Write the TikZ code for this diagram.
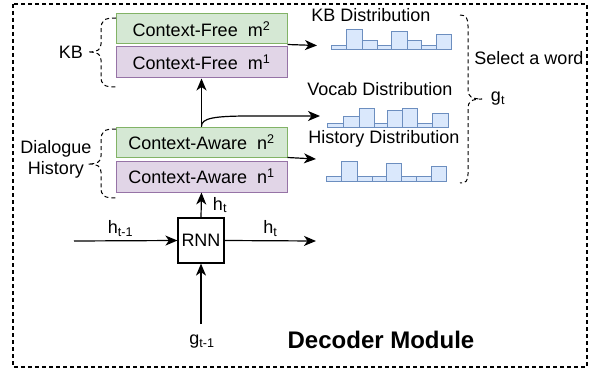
\documentclass[tikz,border=0pt]{standalone}
\usepackage{fontspec}
\setmainfont{Liberation Sans}
\usetikzlibrary{arrows.meta}

\definecolor{greenfill}{HTML}{D5E8D4}
\definecolor{greenline}{HTML}{82B366}
\definecolor{purplefill}{HTML}{E1D5E7}
\definecolor{purpleline}{HTML}{9673A6}
\definecolor{barfill}{HTML}{DAE8FC}
\definecolor{barline}{HTML}{6C8EBF}

\tikzset{
  txt/.style={inner sep=0pt, font=\fontsize{18}{21}\selectfont},
  greenbox/.style={txt, draw=greenline, fill=greenfill, line width=1pt, minimum width=171pt, minimum height=30pt},
  purplebox/.style={txt, draw=purpleline, fill=purplefill, line width=1pt, minimum width=171pt, minimum height=31pt},
  rnnbox/.style={txt, draw, line width=1.2pt, minimum width=46pt, minimum height=45pt},
  bar/.style={draw=barline, fill=barfill, line width=1pt},
  conn/.style={line width=1.2pt, -{Stealth[length=12pt,width=10pt,inset=3.5pt]}},
  brace/.style={line width=1pt, dash pattern=on 4pt off 3pt},
}

\begin{document}
\begin{tikzpicture}[x=1pt, y=-1pt]
\useasboundingbox (0,0) rectangle (592,369);
\draw[line width=1.2pt, dash pattern=on 4pt off 3pt] (13,4) rectangle (587,367);

\node[greenbox]  (mTwo) at (201.5,29)   {Context-Free\ \ m\textsuperscript{2}};
\node[purplebox] (mOne) at (201.5,62.5) {Context-Free\ \ m\textsuperscript{1}};
\node[greenbox]  (nTwo) at (201.5,142)  {Context-Aware\ \ n\textsuperscript{2}};
\node[purplebox] (nOne) at (201.5,176.5) {Context-Aware\ \ n\textsuperscript{1}};
\node[rnnbox]    (rnn)  at (201,240.5)  {RNN};

\coordinate (kbEnd) at (317,45.5);
\coordinate (vocabEnd) at (320,116);
\coordinate (histEnd) at (316,159);
\coordinate (hIn) at (74,241);
\coordinate (hOut) at (316,241);
\coordinate (gIn) at (201,324);

\draw[conn] (nTwo.north) -- (mOne.south);
\draw[conn] (nTwo.north) .. controls (201,118) and (215,116) .. (250,116) -- (vocabEnd);
\draw[conn] (mTwo.south east) -- (kbEnd);
\draw[conn] (nTwo.south east) -- (histEnd);
\draw[conn] (rnn.north) -- (nOne.south);
\node[txt] (hUp) at (220,205) {h\textsubscript{t}};
\draw[conn] (hIn) -- (rnn.west) node[pos=.45, above, txt, yshift=4pt] {h\textsubscript{t-1}};
\draw[conn] (rnn.east) -- (hOut) node[pos=.5, above, txt, yshift=4pt] {h\textsubscript{t}};
\draw[conn] (gIn) -- (rnn.south);
\node[txt] (gPrev) at (202,342) {g\textsubscript{t-1}};

\foreach \xa/\xb/\yt in {331/346/45.7, 346/362/30, 362/377/40.7, 377/391/45.7, 391/407/31.7, 407/421/40.7, 421/436/45.7, 436/451/34.3}
  \draw[bar] (\xa,50) rectangle (\xb,\yt);
\foreach \xa/\xb/\yt in {327.7/343.3/123.7, 343.3/359/116.7, 359/374.3/108.3, 374.3/387.7/123.7, 387.7/402.3/110, 402.3/417.7/108.3, 417.7/432.3/123.7, 432.3/448.3/113.3}
  \draw[bar] (\xa,127.7) rectangle (\xb,\yt);
\foreach \xa/\xb/\yt in {326/341.7/176.7, 341.7/357.3/161.7, 357.3/372.3/176.7, 372.3/386.7/176.7, 386.7/401.7/163.3, 401.7/416.7/176.7, 416.7/431.7/176.7, 431.7/446.7/166}
  \draw[bar] (\xa,181.7) rectangle (\xb,\yt);

\node[txt] (kbDist)    at (371,15)  {KB Distribution};
\node[txt] (vocabDist) at (380,89)  {Vocab Distribution};
\node[txt] (histDist)  at (384,139) {History Distribution};
\node[txt] (select)    at (529,58)  {Select a word};
\node[txt] (gNow)      at (498,99)  {g\textsubscript{t}};

\draw[brace] (116,18) .. controls (104,18) and (101,20) .. (101,30) -- (101,44)
  .. controls (101,50) and (97,52) .. (88,52)
  .. controls (97,52) and (101,54) .. (101,60) -- (101,76)
  .. controls (101,85) and (104,87) .. (116,87);
\node[txt, anchor=east] (kb) at (83,52) {KB};

\draw[brace] (116,129) .. controls (104,129) and (101,131) .. (101,141) -- (101,156)
  .. controls (101,162) and (97,164) .. (88,164)
  .. controls (97,164) and (101,166) .. (101,172) -- (101,187)
  .. controls (101,196) and (104,198) .. (116,198);
\node[txt, align=center] (dial) at (56,159) {Dialogue\\History};

\draw[brace] (460,15) .. controls (466,15) and (468,18) .. (468,26) -- (468,90)
  .. controls (468,96) and (471,99) .. (482,99)
  .. controls (471,99) and (468,102) .. (468,108) -- (468,174)
  .. controls (468,181) and (466,183) .. (460,183);

\node[font=\fontsize{24}{28}\selectfont\bfseries, inner sep=0pt] (title) at (381,340) {Decoder Module};
\end{tikzpicture}
\end{document}
